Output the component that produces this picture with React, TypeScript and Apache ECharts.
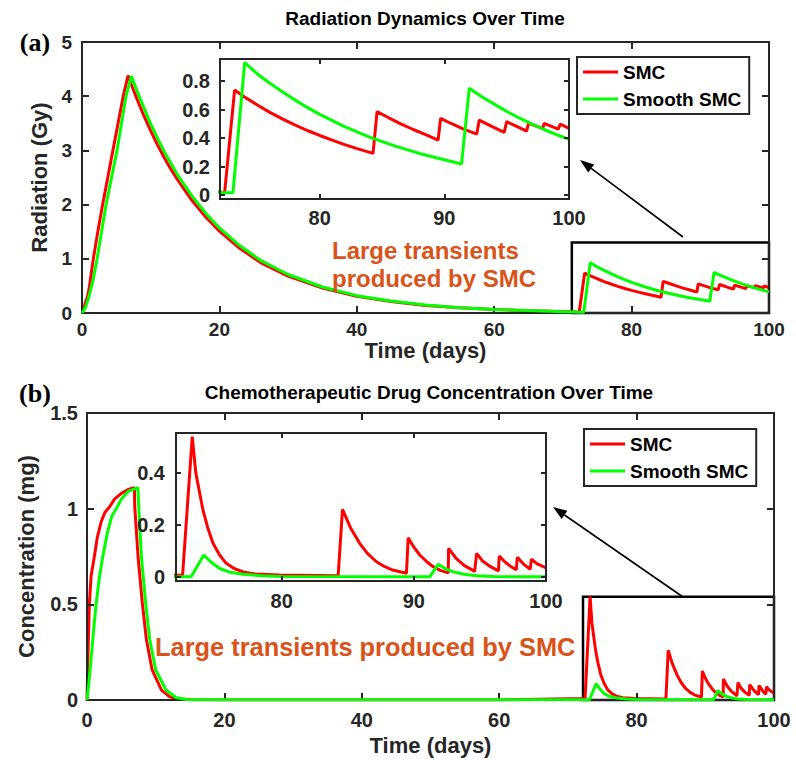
import React, { useEffect, useRef } from "react";
import * as echarts from "echarts";

// ---------------- data ----------------
// (a) Radiation, SMC
const radT_smc = [0,0.2,0.44,0.8,1.07,1.4,1.65,2.3,3.0,3.75,4.5,5.25,6.0,6.7,7,7.5,8,9,10,11,12,13,14,16,18,20,23,26,30,35,40,45,50,55,60,65,70,72,72.37,73.17,74,75,76,77,78,79,80,81,82,83,84.28,84.6,85.5,86.5,87.5,88.5,89.5,89.7,90.5,91.5,92.6,92.8,93.8,94.8,95.0,95.8,96.6,96.75,97.9,98.0,99.14,99.3,100];
const radV_smc = [0,0.05,0.17,0.3,0.48,0.78,1.0,1.5,2.0,2.5,3.0,3.5,4.0,4.38,4.28,4.11,3.95,3.64,3.36,3.1,2.86,2.64,2.44,2.08,1.77,1.51,1.19,0.93,0.68,0.46,0.31,0.21,0.14,0.095,0.064,0.043,0.029,0.02,0.015,0.737,0.687,0.632,0.58,0.535,0.492,0.453,0.418,0.385,0.354,0.326,0.292,0.585,0.544,0.5,0.46,0.424,0.386,0.538,0.504,0.464,0.428,0.526,0.482,0.44,0.515,0.482,0.449,0.503,0.468,0.503,0.463,0.498,0.468];
// (a) Radiation, Smooth SMC
const radT_ssmc = [0,0.5,1.0,1.6,2.2,2.85,3.5,4.3,5.1,5.75,6.4,7.2,8,9,10,11,12,14,16,18,20,23,26,30,35,40,45,50,55,60,65,70,72,73.04,73.98,75,76,77,78,79,80,82,84,86,88,90,91.38,92.0,93,94,95,96,97,98,99,100];
const radV_ssmc = [0,0.1,0.3,0.6,1.0,1.5,2.0,2.5,3.0,3.5,4.0,4.37,4.1,3.79,3.49,3.22,2.97,2.53,2.16,1.84,1.57,1.24,0.97,0.71,0.48,0.32,0.22,0.147,0.099,0.066,0.044,0.025,0.018,0.016,0.93,0.85,0.785,0.725,0.668,0.615,0.566,0.48,0.407,0.345,0.292,0.248,0.218,0.75,0.69,0.638,0.587,0.541,0.5,0.46,0.424,0.39];
// (b) Chemotherapeutic drug, SMC
const chemoT_smc = [0,0.15,0.34,0.6,1.07,1.5,2.05,2.6,3.3,4,5,6,6.9,6.95,7.43,8.07,8.65,9.48,10.85,12,13,15,20,40,60,72.5,73.23,73.5,74.04,74.4,74.8,75.3,75.8,76.4,77.07,78,79.8,84.27,84.6,85.2,85.9,86.5,87.17,87.8,88.4,89.44,89.57,90.0,90.45,91,91.46,92,92.6,92.63,93.2,93.8,94.6,94.75,95.2,95.8,96.4,96.46,96.9,97.3,97.75,97.83,98.3,98.8,98.9,99.3,99.8,100];
const chemoV_smc = [0,0.25,0.5,0.65,0.75,0.85,0.93,0.98,1.01,1.05,1.08,1.1,1.11,1.01,0.75,0.5,0.315,0.157,0.052,0.018,0.006,0.001,0,0,0,0.008,0.54,0.4,0.258,0.19,0.13,0.085,0.053,0.033,0.02,0.012,0.008,0.005,0.26,0.19,0.13,0.09,0.059,0.04,0.027,0.015,0.151,0.115,0.085,0.058,0.04,0.026,0.016,0.11,0.072,0.045,0.022,0.091,0.062,0.04,0.024,0.081,0.058,0.042,0.028,0.076,0.05,0.03,0.069,0.052,0.04,0.036];
// (b) Chemotherapeutic drug, Smooth SMC
const chemoT_ssmc = [0,0.3,0.68,1.0,1.32,1.8,2.3,3.0,3.6,4.25,5,6,7,7.4,7.53,7.92,8.55,9.14,10.0,11.5,13,14.5,16,20,72,73.15,74.1,74.6,75.3,76,77.07,78.5,80,91.2,91.84,92.4,93,93.8,94.75,96,100];
const chemoV_ssmc = [0,0.1,0.25,0.38,0.5,0.64,0.75,0.88,0.96,1.0,1.05,1.09,1.105,1.11,1.01,0.75,0.5,0.315,0.157,0.052,0.012,0.003,0.001,0.001,0.001,0.001,0.085,0.06,0.033,0.02,0.011,0.005,0.002,0.001,0.049,0.032,0.02,0.011,0.005,0.002,0.001];

// tick labels
const mainXTicks = [0, 20, 40, 60, 80, 100];
const radYTicks = [0, 1, 2, 3, 4, 5];
const insetXTicks = [80, 90, 100];
const radInsetYTicks = [0, 0.2, 0.4, 0.6, 0.8];
const chemoYTicks = [0, 0.5, 1, 1.5];
const chemoInsetYTicks = [0, 0.2, 0.4];

const seriesNames = ["SMC", "Smooth SMC"];

// ---------------- styling ----------------
const FONT = "'Liberation Sans', Arial, Helvetica, sans-serif";
const AX = "#262626";
const RED = "#ff0000";
const GREEN = "#00ff00";
const ORANGE = "#d95319";

const zip = (t: number[], v: number[]) => t.map((x, i) => [x, v[i]]);

function axis(dim: "x" | "y", gridIndex: number, min: number, max: number, ticks: number[], o: any) {
  return {
    gridIndex,
    type: "value",
    min,
    max,
    position: o.position,
    axisLine: { show: true, onZero: false, lineStyle: { color: AX, width: 2 } },
    axisTick: { show: true, inside: true, length: o.tl, customValues: ticks, lineStyle: { color: AX, width: 2 } },
    axisLabel: {
      show: !!o.labels,
      customValues: ticks,
      margin: o.margin ?? 8,
      fontSize: o.fs ?? 19,
      fontWeight: "bold",
      color: AX,
      fontFamily: FONT,
    },
    splitLine: { show: false },
    name: o.name ?? "",
    nameLocation: "middle",
    nameGap: o.nameGap ?? 0,
    nameRotate: dim === "y" && o.name ? 90 : undefined,
    nameTextStyle: { fontSize: o.nfs ?? 22, fontWeight: "bold", color: AX, fontFamily: FONT },
    z: o.z ?? 3,
  };
}

function arrow(x1: number, y1: number, x2: number, y2: number) {
  const dx = x2 - x1, dy = y2 - y1;
  const L = Math.hypot(dx, dy);
  const ux = dx / L, uy = dy / L;
  const hl = 14, hw = 5;
  const bx = x2 - ux * hl, by = y2 - uy * hl;
  const nx = -uy, ny = ux;
  return [
    { type: "line", z: 100, shape: { x1, y1, x2: bx, y2: by }, style: { stroke: "#000", lineWidth: 1.6 } },
    { type: "polygon", z: 100, shape: { points: [[x2, y2], [bx + nx * hw, by + ny * hw], [bx - nx * hw, by - ny * hw]] }, style: { fill: "#000" } },
  ];
}

function lineSeries(name: string, color: string, data: number[][], xi: number, yi: number, z: number, extra: any = {}) {
  return {
    type: "line",
    name,
    xAxisIndex: xi,
    yAxisIndex: yi,
    data,
    showSymbol: false,
    symbol: "none",
    lineStyle: { color, width: 3 },
    itemStyle: { color },
    z,
    animation: false,
    ...extra,
  };
}

function boxArea(x0: number, y0: number, x1: number, y1: number) {
  return {
    silent: true,
    label: { show: false },
    itemStyle: { color: "rgba(0,0,0,0)", borderColor: "#000", borderWidth: 2.5 },
    data: [[{ coord: [x0, y0] }, { coord: [x1, y1] }]],
  };
}

function legendAt(left: number, top: number) {
  return {
    data: seriesNames,
    orient: "vertical",
    left,
    top,
    selectedMode: false,
    backgroundColor: "#fff",
    borderColor: AX,
    borderWidth: 2,
    padding: [4, 8, 4, 6],
    itemGap: 5,
    itemWidth: 35,
    itemHeight: 3,
    icon: "rect",
    textStyle: { fontSize: 19, fontWeight: "bold", color: "#000", fontFamily: FONT, lineHeight: 22 },
    z: 20,
  };
}

const option: any = {
  animation: false,
  backgroundColor: "#fff",
  grid: [
    { left: 82, top: 42, width: 687, height: 271 },
    { left: 220, top: 59, width: 349, height: 140, show: true, backgroundColor: "#fff", borderWidth: 0, z: 5 },
    { left: 87, top: 413, width: 687, height: 287 },
    { left: 176, top: 433, width: 370, height: 148, show: true, backgroundColor: "#fff", borderWidth: 0, z: 5 },
  ],
  xAxis: [
    axis("x", 0, 0, 100, mainXTicks, { position: "bottom", tl: 7, labels: true, margin: 7, name: "Time (days)", nameGap: 26 }),
    axis("x", 0, 0, 100, mainXTicks, { position: "top", tl: 7 }),
    axis("x", 1, 72, 100, insetXTicks, { position: "bottom", tl: 5, labels: true, margin: 9, fs: 20, z: 8 }),
    axis("x", 1, 72, 100, insetXTicks, { position: "top", tl: 5, z: 8 }),
    axis("x", 2, 0, 100, mainXTicks, { position: "bottom", tl: 7, labels: true, margin: 10, fs: 20, name: "Time (days)", nameGap: 34 }),
    axis("x", 2, 0, 100, mainXTicks, { position: "top", tl: 7 }),
    axis("x", 3, 72, 100, insetXTicks, { position: "bottom", tl: 5, labels: true, margin: 10, fs: 20, z: 8 }),
    axis("x", 3, 72, 100, insetXTicks, { position: "top", tl: 5, z: 8 }),
  ],
  yAxis: [
    axis("y", 0, 0, 5, radYTicks, { position: "left", tl: 7, labels: true, margin: 10, name: "Radiation (Gy)", nameGap: 29 }),
    axis("y", 0, 0, 5, radYTicks, { position: "right", tl: 7 }),
    axis("y", 1, -0.028, 0.955, radInsetYTicks, { position: "left", tl: 5, labels: true, margin: 10, fs: 20, z: 8 }),
    axis("y", 1, -0.028, 0.955, radInsetYTicks, { position: "right", tl: 5, z: 8 }),
    axis("y", 2, 0, 1.5, chemoYTicks, { position: "left", tl: 7, labels: true, margin: 9, fs: 20, name: "Concentration (mg)", nameGap: 50 }),
    axis("y", 2, 0, 1.5, chemoYTicks, { position: "right", tl: 7 }),
    axis("y", 3, -0.015, 0.554, chemoInsetYTicks, { position: "left", tl: 5, labels: true, margin: 11, fs: 20, z: 8 }),
    axis("y", 3, -0.015, 0.554, chemoInsetYTicks, { position: "right", tl: 5, z: 8 }),
  ],
  legend: [legendAt(577, 57), legendAt(584, 429)],
  series: [
    lineSeries(seriesNames[0], RED, zip(radT_smc, radV_smc), 0, 0, 2, { markArea: boxArea(71.3, 0, 100, 1.3) }),
    lineSeries(seriesNames[1], GREEN, zip(radT_ssmc, radV_ssmc), 0, 0, 3),
    lineSeries(seriesNames[0], RED, zip(radT_smc, radV_smc), 2, 2, 6),
    lineSeries(seriesNames[1], GREEN, zip(radT_ssmc, radV_ssmc), 2, 2, 7),
    lineSeries(seriesNames[0], RED, zip(chemoT_smc, chemoV_smc), 4, 4, 2, { markArea: boxArea(72.2, 0, 100, 0.54) }),
    lineSeries(seriesNames[1], GREEN, zip(chemoT_ssmc, chemoV_ssmc), 4, 4, 3),
    lineSeries(seriesNames[0], RED, zip(chemoT_smc, chemoV_smc), 6, 6, 6),
    lineSeries(seriesNames[1], GREEN, zip(chemoT_ssmc, chemoV_ssmc), 6, 6, 7),
  ],
  graphic: [
    { type: "text", z: 100, x: 425, y: 18, style: { text: "Radiation Dynamics Over Time", font: `bold 19px ${FONT}`, fill: "#000", align: "center", verticalAlign: "middle" } },
    { type: "text", z: 100, x: 429, y: 392, style: { text: "Chemotherapeutic Drug Concentration Over Time", font: `bold 19px ${FONT}`, fill: "#000", align: "center", verticalAlign: "middle" } },
    { type: "text", z: 100, x: 35, y: 42, style: { text: "(a)", font: `bold 26px 'Liberation Serif', 'Times New Roman', serif`, fill: "#000", align: "center", verticalAlign: "middle" } },
    { type: "text", z: 100, x: 35, y: 393, style: { text: "(b)", font: `bold 26px 'Liberation Serif', 'Times New Roman', serif`, fill: "#000", align: "center", verticalAlign: "middle" } },
    { type: "text", z: 100, x: 332, y: 250, style: { text: "Large transients", font: `bold 24px ${FONT}`, fill: ORANGE, align: "left", verticalAlign: "middle" } },
    { type: "text", z: 100, x: 332, y: 278, style: { text: "produced by SMC", font: `bold 24px ${FONT}`, fill: ORANGE, align: "left", verticalAlign: "middle" } },
    { type: "text", z: 100, x: 155, y: 647, style: { text: "Large transients produced by SMC", font: `bold 25.4px ${FONT}`, fill: ORANGE, align: "left", verticalAlign: "middle" } },
    ...arrow(683, 237, 580, 160),
    ...arrow(683, 597, 553, 507),
  ],
};

export default function App() {
  const ref = useRef<HTMLDivElement>(null);
  useEffect(() => {
    const chart = echarts.init(ref.current!, null, { renderer: "svg" });
    chart.setOption(option);
    return () => chart.dispose();
  }, []);
  return <div ref={ref} style={{ position: "absolute", left: 0, top: 0, width: 796, height: 760 }} />;
}
